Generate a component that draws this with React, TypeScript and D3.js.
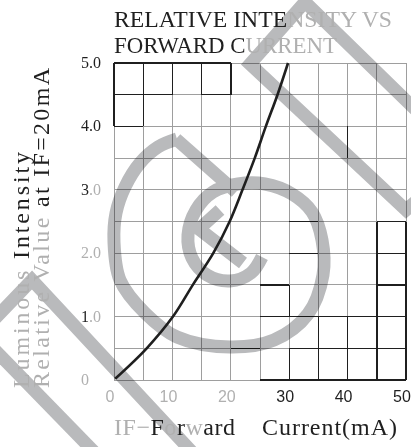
import * as d3 from 'd3';

// relative luminous intensity curve (IF in mA vs value at IF=20mA)
const currentMA = [0.2, 5.6, 10.1, 13.5, 17.0, 19.8, 22.0, 24.1, 26.0, 28.0, 29.8];
const relIntensity = [0.02, 0.5, 1.0, 1.5, 2.0, 2.5, 3.0, 3.5, 4.0, 4.5, 5.0];

const xTicks = [0, 10, 20, 30, 40, 50];
const xTickLabels = ['0', '10', '20', '30', '40', '50'];
const yTicks = [0, 1, 2, 3, 4, 5];
const yTickLabels = ['0', '1.0', '2.0', '3.0', '4.0', '5.0'];
const gridX = [0, 5, 10, 15, 20, 25, 30, 35, 40, 45, 50];
const gridY = [0, 0.5, 1, 1.5, 2, 2.5, 3, 3.5, 4, 4.5, 5];

// darker cell edges left over from the scanned sheet [x1, y1, x2, y2] in data units
const darkEdges = [
  [0, 5, 20, 5], [0, 4.5, 10, 4.5], [15, 4.5, 20, 4.5], [0, 4, 5, 4],
  [0, 4, 0, 5], [5, 4, 5, 5], [10, 4.5, 10, 5], [15, 4.5, 15, 5], [20, 4.5, 20, 5],
  [40, 3.5, 40, 4],
  [30, 2.5, 35, 2.5], [30, 2, 35, 2],
  [45, 2.5, 50, 2.5], [45, 2, 50, 2], [45, 1.5, 50, 1.5], [45, 1, 45, 2.5], [50, 0, 50, 2.5],
  [25, 1.5, 30, 1.5], [30, 1, 30, 1.5], [25, 1, 50, 1],
  [35, 0, 35, 1], [40, 0, 40, 1], [45, 0, 45, 1],
  [20, 0.5, 25, 0.5], [30, 0.5, 50, 0.5], [30, 0, 30, 0.5], [25, 0, 50, 0],
];

// how many leading characters of each tick label print dark
const yTickDark = [0, 1, 0, 1, 3, 3];
const xTickDark = [false, false, false, true, true, true];

const W = 411;
const H = 447;
const DARK = '#1f1f1f';
const LIGHT = '#b0b0b0';
const SERIF = '"Liberation Serif", "DejaVu Serif", serif';
const SANS = '"Liberation Sans", Arial, sans-serif';

// watermark centre lines, page pixels
const wmSpiral: [number, number][] = [
  [177, 139], [158, 147], [140, 163], [125, 187], [116, 213], [114, 242], [120, 280],
  [145, 313], [177, 337], [230, 347], [274, 340], [308, 314], [323, 275], [322, 240],
  [312, 212], [292, 194], [265, 184], [238, 184], [213, 192], [196, 210], [188, 235],
  [192, 258], [207, 275], [230, 281], [251, 273], [262, 257],
];
const wmBands: [number, number][][] = [
  [[176, 139], [236, 192]],
  [[220, 210], [199, 229], [243, 263]],
  [[420, 114], [305, 2], [250, 64], [406, 210], [422, 196]],
  [[-12, 326], [32, 280], [192, 452]],
  [[-8, 347], [104, 462]],
];

export default function App() {
  const x = d3.scaleLinear().domain([0, 50]).range([114, 406]);
  const y = d3.scaleLinear().domain([0, 5]).range([380, 63]);

  const curve = d3.line<number>()
    .x((_, i) => x(currentMA[i]))
    .y((d) => y(d))
    .curve(d3.curveCatmullRom.alpha(0.5));

  const wmLine = d3.line<[number, number]>().curve(d3.curveCatmullRom.alpha(0.5));
  const wmStraight = d3.line<[number, number]>();

  return (
    <svg width={W} height={H} style={{position: 'absolute', left: 0, top: 0, background: '#fff'}}>
      {/* grid */}
      <g stroke="#9e9e9e" strokeWidth={1} shapeRendering="crispEdges">
        {gridX.map((v) => <line key={'gx' + v} x1={x(v)} x2={x(v)} y1={y(0)} y2={y(5)} />)}
        {gridY.map((v) => <line key={'gy' + v} x1={x(0)} x2={x(50)} y1={y(v)} y2={y(v)} />)}
      </g>
      <g stroke={DARK} strokeWidth={1.4} shapeRendering="crispEdges">
        {darkEdges.map((s, i) => (
          <line key={i} x1={x(s[0])} y1={y(s[1])} x2={x(s[2])} y2={y(s[3])} />
        ))}
      </g>

      {/* watermark */}
      <g fill="none" stroke="#b9babc" strokeWidth={13} style={{mixBlendMode: 'multiply'}}>
        <path d={wmLine(wmSpiral) || ''} />
        {wmBands.map((b, i) => <path key={i} d={wmStraight(b) || ''} strokeLinejoin="miter" />)}
      </g>

      <path d={curve(relIntensity) || ''} fill="none" stroke={DARK} strokeWidth={2.6} />

      {/* tick labels */}
      {yTicks.map((v, i) => {
        const lab = yTickLabels[i];
        const k = yTickDark[i];
        return (
          <text key={'yt' + v} x={81} y={y(v) + 5} fontFamily={SERIF} fontSize={16}>
            <tspan fill={DARK}>{lab.slice(0, k)}</tspan>
            <tspan fill={LIGHT}>{lab.slice(k)}</tspan>
          </text>
        );
      })}
      {xTicks.map((v, i) => (
        <text key={'xt' + v} x={x(v) - 4} y={402} textAnchor="middle" fontFamily={SANS} fontSize={16}
          fill={xTickDark[i] ? DARK : LIGHT}>
          {xTickLabels[i]}
        </text>
      ))}

      {/* title */}
      <text x={114} y={27} fontFamily={SERIF} fontSize={23} textLength={278} lengthAdjust="spacingAndGlyphs">
        <tspan fill={DARK}>RELATIVE INTE</tspan>
        <tspan fill={LIGHT}>NSITY VS</tspan>
      </text>
      <text x={114} y={53} fontFamily={SERIF} fontSize={23} textLength={223} lengthAdjust="spacingAndGlyphs">
        <tspan fill={DARK}>FORWARD C</tspan>
        <tspan fill={LIGHT}>URRENT</tspan>
      </text>

      {/* y axis title */}
      <text transform="translate(29,388) rotate(-90)" fontFamily={SERIF} fontSize={24}
        textLength={236} lengthAdjust="spacing">
        <tspan fill={LIGHT}>Luminous</tspan>
        <tspan fill={DARK}> Intensity</tspan>
      </text>
      <text transform="translate(49,388) rotate(-90)" fontFamily={SERIF} fontSize={24}
        textLength={320} lengthAdjust="spacing">
        <tspan fill={LIGHT}>Relative Value</tspan>
        <tspan fill={DARK}> at IF=20mA</tspan>
      </text>

      {/* x axis title */}
      <text x={114} y={435} fontFamily={SERIF} fontSize={24} textLength={121} lengthAdjust="spacing">
        <tspan fill={LIGHT}>IF−</tspan>
        <tspan fill={DARK}>F</tspan>
        <tspan fill={LIGHT}>o</tspan>
        <tspan fill={DARK}>r</tspan>
        <tspan fill={LIGHT}>w</tspan>
        <tspan fill={DARK}>ard</tspan>
      </text>
      <text x={262} y={435} fontFamily={SERIF} fontSize={24} textLength={135} lengthAdjust="spacing" fill={DARK}>
        Current(mA)
      </text>
    </svg>
  );
}
